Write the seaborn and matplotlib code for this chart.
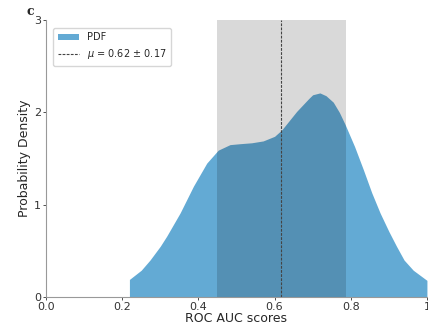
#!/usr/bin/env python3

import matplotlib

matplotlib.use("Agg")
import matplotlib.pylab as plt
import seaborn as sns

sns.set_style("ticks")

# Density curve of ROC AUC scores
auc_grid = [0.219, 0.25, 0.273, 0.30, 0.317, 0.352, 0.387, 0.422, 0.452, 0.483,
            0.509, 0.54, 0.57, 0.60, 0.619, 0.658, 0.69, 0.70, 0.719, 0.735,
            0.754, 0.77, 0.785, 0.81, 0.833, 0.855, 0.877, 0.90, 0.92, 0.94,
            0.964, 1.0]
density = [0.19, 0.29, 0.40, 0.55, 0.66, 0.91, 1.20, 1.45, 1.59, 1.65,
           1.66, 1.67, 1.69, 1.74, 1.81, 2.01, 2.15, 2.19, 2.21, 2.18,
           2.11, 2.00, 1.87, 1.63, 1.38, 1.13, 0.91, 0.71, 0.55, 0.40,
           0.29, 0.18]

# Summary statistics
mu = 0.618
sd = 0.17
mu_label = r"$\mu$ = 0.62 $\pm$ 0.17"

x_ticks = [0.0, 0.2, 0.4, 0.6, 0.8, 1.0]
x_tick_labels = ["0.0", "0.2", "0.4", "0.6", "0.8", "1"]
y_ticks = [0, 1, 2, 3]


def main():
    fig = plt.figure(figsize=(4.28, 3.25), dpi=100)
    ax = fig.add_axes([0.1075, 0.0862, 0.89, 0.8523])

    fill_color = "#63aad4"
    sns.lineplot(x=auc_grid, y=density, ax=ax, color=fill_color, linewidth=0)
    ax.fill_between(auc_grid, density, color=fill_color, linewidth=0, label="PDF")

    # mean +/- std band and mean line
    ax.axvspan(mu - sd, mu + sd, color="black", alpha=0.15, linewidth=0, zorder=3)
    ax.axvline(mu, color="#444444", linestyle=(0, (2.5, 1.2)), linewidth=0.8,
               label=mu_label, zorder=4)

    ax.set_xlim(0, 1)
    ax.set_ylim(0, 3)
    ax.set_xticks(x_ticks)
    ax.set_yticks(y_ticks)
    ax.set_xticklabels(x_tick_labels)
    ax.tick_params(labelsize=8, length=2.5, width=0.6, colors="#333333", pad=1)
    ax.set_xlabel("ROC AUC scores", fontsize=9, labelpad=0)
    ax.set_ylabel("Probability Density", fontsize=9, labelpad=2)

    sns.despine(ax=ax)
    for side in ["left", "bottom"]:
        ax.spines[side].set_color("#999999")
        ax.spines[side].set_linewidth(0.8)

    ax.legend(loc="upper left", fontsize=7, frameon=True, fancybox=True,
              bbox_to_anchor=(0.005, 0.99), borderpad=0.5, handlelength=2.2)

    fig.text(0.063, 0.955, "c", fontsize=9, fontweight="bold", family="serif")

    plt.savefig("out.png", dpi=100)
    plt.clf()


if __name__ == "__main__":
    main()
